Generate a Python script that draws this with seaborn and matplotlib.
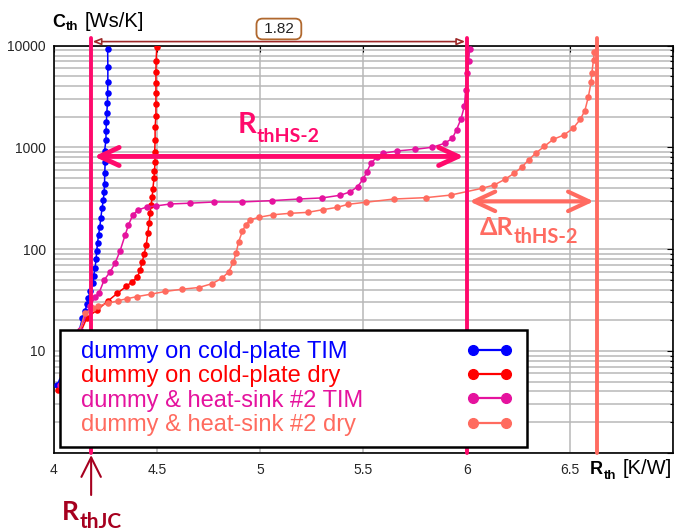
import matplotlib
matplotlib.use('Agg')
import matplotlib.pyplot as plt
import matplotlib.ticker as mticker
from matplotlib.lines import Line2D
import pandas as pd
import seaborn as sns

labels = ['dummy on cold-plate TIM', 'dummy on cold-plate dry',
          'dummy & heat-sink #2 TIM', 'dummy & heat-sink #2 dry']
colors = ['#0000FF', '#FF0000', '#E5139E', '#FF6B5F']

# cold-plate TIM
rth_cp_tim = [4.015, 4.078, 4.117, 4.138, 4.150, 4.160, 4.167, 4.175, 4.188, 4.192, 4.199,
              4.204, 4.207, 4.211, 4.216, 4.222, 4.227, 4.233, 4.239, 4.243, 4.245, 4.246,
              4.248, 4.245, 4.252, 4.252, 4.254, 4.256, 4.259, 4.260, 4.261, 4.261, 4.260]
cth_cp_tim = [4.6, 9.1, 14.4, 21.1, 24.7, 28.9, 33.1, 38.8, 46.5, 54.5, 65.4,
              80.1, 94.9, 115, 138, 165, 203, 254, 305, 365, 437, 561,
              720, 923, 1184, 1445, 1780, 2185, 2735, 3430, 4400, 6180, 9290]

# cold-plate dry
rth_cp_dry = [4.019, 4.102, 4.159, 4.209, 4.262, 4.307, 4.350, 4.379, 4.404, 4.417, 4.427,
              4.437, 4.447, 4.455, 4.461, 4.466, 4.471, 4.476, 4.479, 4.485, 4.487, 4.490,
              4.488, 4.490, 4.490, 4.494, 4.494, 4.494, 4.494, 4.494, 4.495, 4.498]
cth_cp_dry = [4.1, 11.4, 21.1, 25.3, 31.0, 36.9, 43.0, 48.0, 53.0, 61.8, 74.0,
              89.7, 110, 144, 181, 227, 272, 326, 391, 500, 587, 720,
              902, 1184, 1585, 2040, 2670, 3430, 4300, 5520, 7080, 9700]

# heat-sink #2 TIM
rth_hs_tim = [4.029, 4.126, 4.175, 4.199, 4.218, 4.243, 4.272, 4.296, 4.320, 4.345, 4.361,
              4.382, 4.408, 4.450, 4.494, 4.563, 4.657, 4.777, 4.910, 5.056, 5.186, 5.300,
              5.388, 5.437, 5.471, 5.499, 5.517, 5.536, 5.567, 5.596, 5.664, 5.752, 5.833,
              5.893, 5.931, 5.951, 5.972, 5.989, 5.995, 6.002, 6.009, 6.015]
cth_hs_tim = [4.6, 16.1, 27.6, 33.9, 37.0, 49.8, 59.7, 73.0, 96.0, 138, 173,
              217, 243, 260, 266, 278, 283, 291, 291, 300, 311, 319,
              339, 367, 411, 490, 578, 699, 811, 877, 923, 959, 1003,
              1097, 1230, 1494, 1892, 2536, 3630, 5370, 7080, 9220]

# heat-sink #2 dry
rth_hs_dry = [4.039, 4.102, 4.150, 4.191, 4.215, 4.264, 4.312, 4.353, 4.403, 4.469, 4.539,
              4.620, 4.702, 4.766, 4.814, 4.846, 4.869, 4.883, 4.895, 4.913, 4.929, 4.950,
              4.994, 5.063, 5.142, 5.230, 5.306, 5.374, 5.425, 5.510, 5.647, 5.803, 5.922,
              6.076, 6.134, 6.184, 6.230, 6.270, 6.301, 6.338, 6.377, 6.420, 6.472, 6.516,
              6.551, 6.573, 6.590, 6.603, 6.607, 6.615, 6.619]
cth_hs_dry = [5.8, 11.4, 23.4, 26.2, 27.7, 29.4, 31.2, 32.6, 34.2, 36.1, 38.4,
              40.4, 42.0, 45.8, 51.8, 59.7, 74.0, 92.5, 118.5, 150, 173, 194,
              206, 218, 225, 230, 245, 258, 276, 289, 311, 321, 340,
              397, 428, 484, 557, 647, 758, 888, 1026, 1202, 1325, 1542,
              1892, 2297, 3155, 4348, 5430, 7310, 8730]

# reference resistances / arrow levels
r_jc = 4.18
r_hs2_tim = 6.00
r_hs2_dry = 6.63
c_arrow_hs2 = 815
c_arrow_delta = 295

xticks = [4, 4.5, 5, 5.5, 6, 6.5, 7]
xticklabels = ['4', '4.5', '5', '5.5', '6', '6.5', '']
yticks = [1, 10, 100, 1000, 10000]
yticklabels = ['', '10', '100', '1000', '10000']

frames = []
for name, r, c in zip(labels, [rth_cp_tim, rth_cp_dry, rth_hs_tim, rth_hs_dry],
                      [cth_cp_tim, cth_cp_dry, cth_hs_tim, cth_hs_dry]):
    frames.append(pd.DataFrame({'Rth': r, 'Cth': c, 'curve': name}))
df = pd.concat(frames, ignore_index=True)

sns.set_style('white')
plt.rcParams['font.family'] = ['Liberation Sans', 'DejaVu Sans']

pink = '#FF0A6C'
coral = '#FF6B61'
darkred = '#A6001F'
ann_font = ['Lato', 'DejaVu Sans']

fig = plt.figure(figsize=(6.75, 5.31), dpi=100)
ax = fig.add_axes([0.08, 0.1475, 0.917, 0.7665])

sns.lineplot(data=df, x='Rth', y='Cth', hue='curve', hue_order=labels, palette=colors,
             sort=False, estimator=None, marker='o', markersize=4.7, markeredgewidth=0,
             linewidth=1.1, legend=False, ax=ax, zorder=3)

ax.set_yscale('log')
ax.set_xlim(4, 7)
ax.set_ylim(1, 10000)
ax.set_xticks(xticks)
ax.set_xticklabels(xticklabels)
ax.set_yticks(yticks)
ax.set_yticklabels(yticklabels)
ax.yaxis.set_minor_locator(mticker.LogLocator(base=10, subs=range(2, 10), numticks=50))
ax.yaxis.set_minor_formatter(mticker.NullFormatter())
ax.xaxis.set_minor_locator(mticker.NullLocator())
ax.set_xlabel('')
ax.set_ylabel('')
ax.set_axisbelow(True)
ax.grid(True, which='major', color='#B8B8B8', lw=1.1)
ax.grid(True, which='minor', axis='y', color='#B8B8B8', lw=1.1)
ax.tick_params(which='both', direction='in', top=True, right=True, labelsize=10,
               color='black', width=0.8)
ax.tick_params(which='major', length=4)
ax.tick_params(which='minor', length=2.5)
ax.tick_params(axis='x', pad=7.5)
ax.tick_params(axis='y', pad=6)
for s in ax.spines.values():
    s.set_color('black')
    s.set_linewidth(1.2)

trans = ax.get_xaxis_transform()

# vertical reference lines
ax.axvline(r_jc, 0, 1.02, color=pink, lw=2.8, clip_on=False, zorder=4)
ax.axvline(r_hs2_tim, 0, 1.02, color=pink, lw=2.8, clip_on=False, zorder=4)
ax.axvline(r_hs2_dry, 0, 1.02, color=coral, lw=2.8, clip_on=False, zorder=4)

# dimension line on top
ax.annotate('', xy=(r_jc, 1.01), xytext=(r_hs2_tim, 1.01), xycoords=trans, textcoords=trans,
            arrowprops=dict(arrowstyle='<|-|>,head_length=0.5,head_width=0.2', ec='#9E2A2A',
                            fc='white', lw=1.2, shrinkA=1, shrinkB=1),
            annotation_clip=False)
ax.text((r_jc + r_hs2_tim) / 2, 1.041, f' {r_hs2_tim - r_jc:.2f} ', transform=trans,
        ha='center', va='center', fontsize=11, color='#222222',
        bbox=dict(boxstyle='round,pad=0.22,rounding_size=0.4', fc='white', ec='#B0682E', lw=1.3))

# double arrows
ax.annotate('', xy=(r_jc, c_arrow_hs2), xytext=(r_hs2_tim, c_arrow_hs2),
            arrowprops=dict(arrowstyle='<->,head_length=1.4,head_width=0.65', color=pink,
                            lw=3.5, shrinkA=2, shrinkB=2), zorder=4)
ax.annotate('', xy=(r_hs2_tim, c_arrow_delta), xytext=(r_hs2_dry, c_arrow_delta),
            arrowprops=dict(arrowstyle='<->,head_length=1.5,head_width=0.7', color=coral,
                            lw=3.0, shrinkA=2, shrinkB=2), zorder=4)
ax.annotate('', xy=(r_jc, -0.006), xytext=(r_jc, -0.104), xycoords=trans, textcoords=trans,
            arrowprops=dict(arrowstyle='->,head_length=1.4,head_width=0.7', color=darkred,
                            lw=1.5, shrinkA=0, shrinkB=0), annotation_clip=False)


def chain_text(x, y, parts, transform, color, family):
    prev = None
    for s, size, weight, dx, dy in parts:
        kw = dict(color=color, fontsize=size, fontweight=weight, family=family,
                  va='baseline', ha='left', annotation_clip=False, zorder=6)
        if prev is None:
            prev = ax.annotate(s, xy=(x, y), xycoords=transform, **kw)
        else:
            prev = ax.annotate(s, xy=(1, y), xycoords=(prev, transform), xytext=(dx, dy),
                               textcoords='offset points', **kw)
    return prev


chain_text(4.888, 1387, [('R', 21, 'bold', 0, 0), ('thHS-2', 14, 'bold', 0.5, -6.5)],
           ax.transData, pink, ann_font)
chain_text(6.063, 138, [('\u0394R', 18, 'bold', 0, 0), ('thHS-2', 14.5, 'bold', 0.5, -5.8)],
           ax.transData, coral, ann_font)
chain_text(4.039, -0.165, [('R', 19, 'bold', 0, 0), ('thJC', 15, 'bold', 0.5, -6)],
           trans, darkred, ann_font)

# axis labels
chain_text(-0.003, 1.046, [('C', 13, 'bold', 0, 0), ('th', 9.5, 'bold', 0.5, -2.4),
                           ('[Ws/K]', 14.5, 'normal', 4.5, 0)],
           ax.transAxes, 'black', ['Liberation Sans', 'DejaVu Sans'])
chain_text(0.866, -0.0523, [('R', 13, 'bold', 0, 0), ('th', 9.5, 'bold', 0.5, -3.6),
                            ('[K/W]', 14.5, 'normal', 4.5, 0)],
           ax.transAxes, 'black', ['Liberation Sans', 'DejaVu Sans'])

# legend: coloured texts in a framed box, handles on the right
leg_kw = dict(borderaxespad=0, handletextpad=0, borderpad=0.47, labelspacing=0.1, fontsize=17)
text_handles = [Line2D([], [], lw=0) for _ in labels]
leg1 = ax.legend(text_handles, labels, loc='lower left', bbox_to_anchor=(0.0097, 0.014, 0.7544, 0.3),
                 mode='expand', handlelength=0.41, frameon=True, fancybox=False,
                 edgecolor='black', framealpha=1, labelcolor=colors, alignment='left', **leg_kw)
leg1.get_frame().set_linewidth(1.8)
ax.add_artist(leg1)
line_handles = [Line2D([], [], color=c, marker='o', ms=7, lw=1.6) for c in colors]
leg2 = ax.legend(line_handles, [''] * 4, loc='lower right', bbox_to_anchor=(0.759, 0.014),
                 handlelength=2.0, frameon=False, numpoints=2, **leg_kw)
leg2.set_zorder(7)

fig.savefig('out.png', dpi=100)
